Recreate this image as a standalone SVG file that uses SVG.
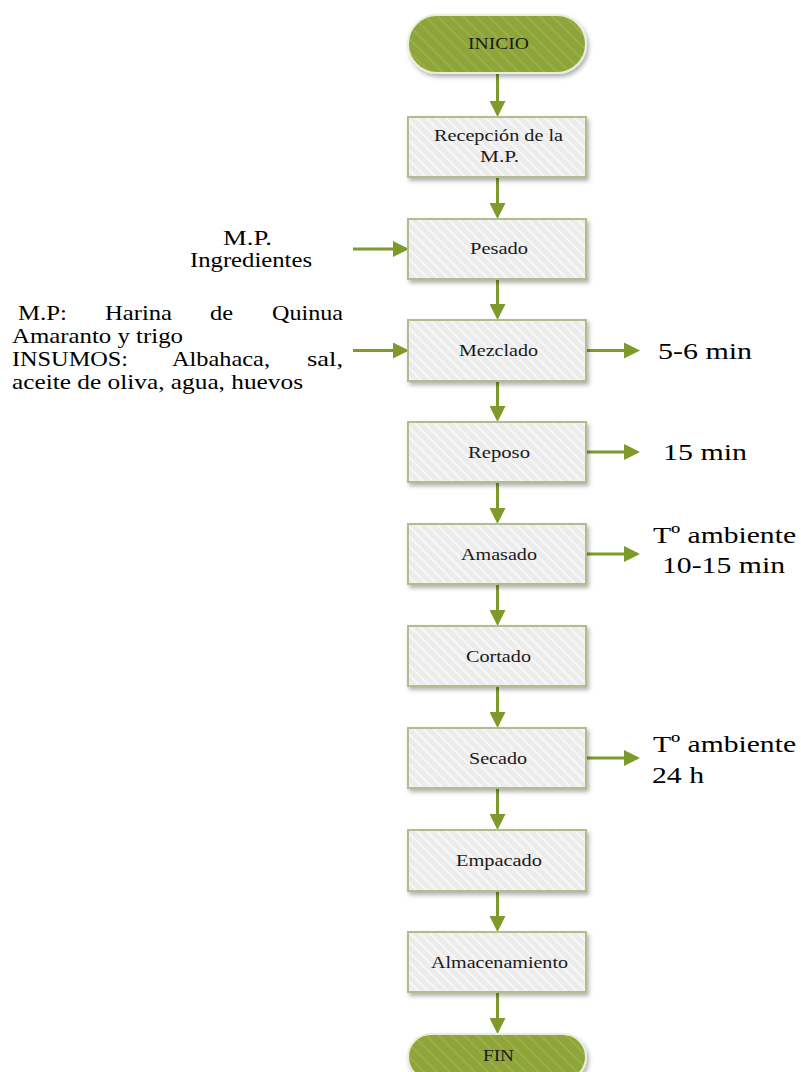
<svg xmlns="http://www.w3.org/2000/svg" width="801" height="1072" viewBox="0 0 801 1072">
<defs>
<pattern id="hatch" patternUnits="userSpaceOnUse" width="7" height="7" patternTransform="rotate(-45)">
<rect width="7" height="7" fill="#ececec"/>
<rect width="2" height="7" fill="#f7f7f7"/>
</pattern>
<pattern id="hatchG" patternUnits="userSpaceOnUse" width="9" height="9" patternTransform="rotate(-45)">
<rect width="9" height="9" fill="#8fa53a"/>
<rect width="2" height="9" fill="#9ab045"/>
</pattern>
<filter id="sh" x="-10%" y="-10%" width="130%" height="140%">
<feDropShadow dx="2" dy="3" stdDeviation="2" flood-color="#000" flood-opacity="0.3"/>
</filter>
<marker id="ah" markerUnits="userSpaceOnUse" markerWidth="16" markerHeight="16" refX="13" refY="8" orient="auto">
<path d="M0,0 L16,8 L0,16 z" fill="#7d9a2b"/>
</marker>
</defs>
<style>
.box{fill:url(#hatch);stroke:#b2bc8c;stroke-width:2;filter:url(#sh)}
.pill{fill:url(#hatchG);stroke:#e9eedb;stroke-width:2;filter:url(#sh)}
text{font-family:'Liberation Serif','DejaVu Sans',sans-serif}
.lbl{font-size:17px;fill:#1a1a1a}
.big{font-size:24px;fill:#000}
.mid{font-size:21px;fill:#000}
.con{stroke:#7d9a2b;stroke-width:3;fill:none;marker-end:url(#ah)}
</style>
<g id="connectors">
<line class="con" x1="497.5" y1="73" x2="497.5" y2="114"/>
<line class="con" x1="497.5" y1="177" x2="497.5" y2="216"/>
<line class="con" x1="497.5" y1="279" x2="497.5" y2="317"/>
<line class="con" x1="497.5" y1="381" x2="497.5" y2="419"/>
<line class="con" x1="497.5" y1="482" x2="497.5" y2="521"/>
<line class="con" x1="497.5" y1="584" x2="497.5" y2="623"/>
<line class="con" x1="497.5" y1="686" x2="497.5" y2="725"/>
<line class="con" x1="497.5" y1="788" x2="497.5" y2="827"/>
<line class="con" x1="497.5" y1="891" x2="497.5" y2="929"/>
<line class="con" x1="497.5" y1="992" x2="497.5" y2="1031"/>
<line class="con" x1="353" y1="249" x2="406" y2="249"/>
<line class="con" x1="353" y1="350.5" x2="406" y2="350.5"/>
<line class="con" x1="587" y1="350.5" x2="637" y2="350.5"/>
<line class="con" x1="587" y1="452" x2="637" y2="452"/>
<line class="con" x1="587" y1="554" x2="637" y2="554"/>
<line class="con" x1="587" y1="758" x2="637" y2="758"/>
</g>
<g id="inicio"><rect class="pill" x="408" y="15" width="178" height="58" rx="29"/><text class="lbl" x="468" y="49" textLength="61" lengthAdjust="spacingAndGlyphs">INICIO</text></g>
<g id="recepcion"><rect class="box" x="408" y="117" width="178" height="60"/><text class="lbl" x="434" y="141" textLength="129" lengthAdjust="spacingAndGlyphs">Recepción de la</text><text class="lbl" x="480" y="162" textLength="39" lengthAdjust="spacingAndGlyphs">M.P.</text></g>
<g id="pesado"><rect class="box" x="408" y="219" width="178" height="60"/><text class="lbl" x="470" y="254" textLength="58" lengthAdjust="spacingAndGlyphs">Pesado</text></g>
<g id="mezclado"><rect class="box" x="408" y="320" width="178" height="61"/><text class="lbl" x="459" y="356" textLength="79" lengthAdjust="spacingAndGlyphs">Mezclado</text></g>
<g id="reposo"><rect class="box" x="408" y="422" width="178" height="60"/><text class="lbl" x="468" y="458" textLength="62" lengthAdjust="spacingAndGlyphs">Reposo</text></g>
<g id="amasado"><rect class="box" x="408" y="524" width="178" height="60"/><text class="lbl" x="461" y="560" textLength="76" lengthAdjust="spacingAndGlyphs">Amasado</text></g>
<g id="cortado"><rect class="box" x="408" y="626" width="178" height="60"/><text class="lbl" x="466" y="662" textLength="65" lengthAdjust="spacingAndGlyphs">Cortado</text></g>
<g id="secado"><rect class="box" x="408" y="728" width="178" height="60"/><text class="lbl" x="469" y="764" textLength="58" lengthAdjust="spacingAndGlyphs">Secado</text></g>
<g id="empacado"><rect class="box" x="408" y="830" width="178" height="61"/><text class="lbl" x="456" y="866" textLength="86" lengthAdjust="spacingAndGlyphs">Empacado</text></g>
<g id="almacenamiento"><rect class="box" x="408" y="932" width="178" height="60"/><text class="lbl" x="431" y="968" textLength="137" lengthAdjust="spacingAndGlyphs">Almacenamiento</text></g>
<g id="fin"><rect class="pill" x="408" y="1034" width="178" height="46" rx="23"/><text class="lbl" x="483" y="1061" textLength="31" lengthAdjust="spacingAndGlyphs">FIN</text></g>
<g id="entrada-mp">
<text class="mid" x="223" y="245" textLength="49" lengthAdjust="spacingAndGlyphs">M.P.</text>
<text class="mid" x="190" y="267" textLength="122" lengthAdjust="spacingAndGlyphs">Ingredientes</text>
</g>
<g id="entrada-insumos">
<text class="mid" x="18" y="320" textLength="49" lengthAdjust="spacingAndGlyphs">M.P:</text>
<text class="mid" x="105" y="320" textLength="67" lengthAdjust="spacingAndGlyphs">Harina</text>
<text class="mid" x="210" y="320" textLength="23" lengthAdjust="spacingAndGlyphs">de</text>
<text class="mid" x="272" y="320" textLength="71" lengthAdjust="spacingAndGlyphs">Quinua</text>
<text class="mid" x="12" y="343" textLength="171" lengthAdjust="spacingAndGlyphs">Amaranto y trigo</text>
<text class="mid" x="12" y="366" textLength="116" lengthAdjust="spacingAndGlyphs">INSUMOS:</text>
<text class="mid" x="172" y="366" textLength="98" lengthAdjust="spacingAndGlyphs">Albahaca,</text>
<text class="mid" x="307" y="366" textLength="36" lengthAdjust="spacingAndGlyphs">sal,</text>
<text class="mid" x="12" y="389" textLength="291" lengthAdjust="spacingAndGlyphs">aceite de oliva, agua, huevos</text>
</g>
<g id="salidas">
<text class="big" x="658" y="359" textLength="94" lengthAdjust="spacingAndGlyphs">5-6 min</text>
<text class="big" x="663" y="460" textLength="84" lengthAdjust="spacingAndGlyphs">15 min</text>
<text class="big" x="653" y="543" textLength="143" lengthAdjust="spacingAndGlyphs">Tº ambiente</text>
<text class="big" x="662" y="573" textLength="123" lengthAdjust="spacingAndGlyphs">10-15 min</text>
<text class="big" x="653" y="752" textLength="143" lengthAdjust="spacingAndGlyphs">Tº ambiente</text>
<text class="big" x="652" y="783" textLength="52" lengthAdjust="spacingAndGlyphs">24 h</text>
</g>
</svg>
